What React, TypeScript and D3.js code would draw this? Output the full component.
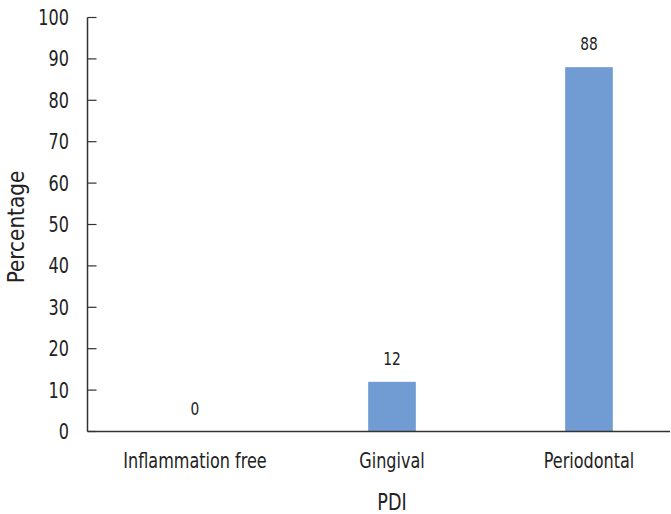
import { scaleBand, scaleLinear } from "d3";

const categories = ["Inflammation free", "Gingival", "Periodontal"];
const values = [0, 12, 88];
const yTicks = [0, 10, 20, 30, 40, 50, 60, 70, 80, 90, 100];

const W = 671;
const H = 514;
const FONT = "'DejaVu Sans Condensed', 'DejaVu Sans', sans-serif";
const SQUEEZE = 0.85;

// condensed-looking text: horizontal squeeze around the anchor point
function Label(props: { x: number; y: number; size: number; anchor?: string; children: any }) {
  const { x, y, size, anchor = "middle", children } = props;
  return (
    <text transform={`translate(${x},${y}) scale(${SQUEEZE},1)`} textAnchor={anchor}
      fontSize={size} fill="#222">
      {children}
    </text>
  );
}

export default function App() {
  const axisX = 87.5;
  const axisEnd = 670;
  const y = scaleLinear().domain([0, 100]).range([431.5, 17.5]);
  const x = scaleBand().domain(categories).range([96.5, 687.5]).padding(0);
  const barW = x.bandwidth() * 0.242;

  return (
    <svg width={W} height={H} style={{ position: "absolute", left: 0, top: 0, background: "#fff" }}
      fontFamily={FONT}>
      {categories.map((c, i) => {
        const cx = (x(c) as number) + x.bandwidth() / 2;
        return (
          <g key={c}>
            {values[i] > 0 && (
              <rect x={cx - barW / 2} y={y(values[i])} width={barW}
                height={y(0) - y(values[i])} fill="#709CD3" />
            )}
            <Label x={cx} y={y(values[i]) - 17} size={18}>{values[i]}</Label>
            <Label x={cx} y={468} size={21}>{c}</Label>
          </g>
        );
      })}

      <line x1={axisX} x2={axisX} y1={y(100)} y2={y(0)} stroke="#333" strokeWidth={1.5} />
      {yTicks.map((t) => (
        <g key={t}>
          <line x1={axisX} x2={axisX + 9} y1={y(t)} y2={y(t)} stroke="#333" strokeWidth={1.2} />
          <Label x={69} y={y(t) + 7.5} size={21} anchor="end">{t}</Label>
        </g>
      ))}
      <line x1={axisX} x2={axisEnd} y1={y(0)} y2={y(0)} stroke="#333" strokeWidth={1.5} />

      <text transform={`translate(24, 227) rotate(-90) scale(0.97,1)`} textAnchor="middle"
        fontSize={23} fill="#222">
        Percentage
      </text>
      <Label x={392} y={510} size={23}>PDI</Label>
    </svg>
  );
}
